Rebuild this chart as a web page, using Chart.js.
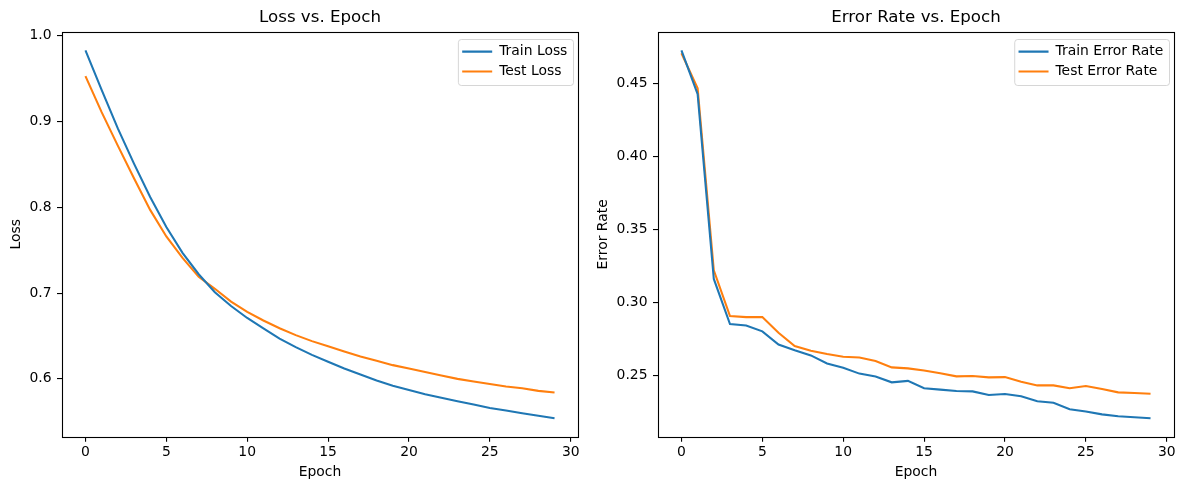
<!DOCTYPE html>
<html><head><meta charset="utf-8">
<script src="https://cdn.jsdelivr.net/npm/chart.js@4/dist/chart.umd.min.js"></script>
<style>
html,body{margin:0;padding:0;background:#fff;}
#wrap{position:relative;width:1188px;height:490px;overflow:hidden;background:#fff;}
canvas{position:absolute;top:0;}
</style></head><body>
<div id="wrap">
<canvas id="c1" width="594" height="490" style="left:0;width:594px;height:490px"></canvas>
<canvas id="c2" width="594" height="490" style="left:594px;width:594px;height:490px"></canvas>
</div>
<script>
// ---- data ----
const epochs = [0,1,2,3,4,5,6,7,8,9,10,11,12,13,14,15,16,17,18,19,20,21,22,23,24,25,26,27,28,29];
const trainLoss = [0.983,0.937,0.892,0.851,0.812,0.777,0.747,0.722,0.701,0.685,0.671,0.659,0.647,0.637,0.628,0.620,0.612,0.605,0.598,0.592,0.587,0.582,0.578,0.574,0.570,0.566,0.563,0.560,0.557,0.554];
const testLoss  = [0.953,0.911,0.872,0.834,0.797,0.766,0.741,0.719,0.705,0.690,0.678,0.668,0.659,0.651,0.644,0.638,0.632,0.626,0.621,0.616,0.612,0.608,0.604,0.600,0.597,0.594,0.591,0.589,0.586,0.584];
const trainErr  = [0.473,0.443,0.316,0.285,0.284,0.280,0.271,0.267,0.2635,0.258,0.255,0.251,0.249,0.245,0.246,0.241,0.240,0.239,0.2388,0.2363,0.237,0.2354,0.232,0.231,0.2265,0.225,0.223,0.2217,0.221,0.2203];
const testErr   = [0.471,0.447,0.322,0.2905,0.2898,0.2898,0.279,0.270,0.2667,0.2644,0.2626,0.2621,0.2596,0.2553,0.2546,0.2532,0.2512,0.2491,0.2493,0.2484,0.2486,0.2454,0.2429,0.2429,0.2409,0.2425,0.2404,0.2381,0.2377,0.2372];
const epochTicks = [0,5,10,15,20,25,30];
const lossTicks = [0.6,0.7,0.8,0.9,1.0];
const errTicks = [0.25,0.30,0.35,0.40,0.45];
const seriesLabels = {loss:['Train Loss','Test Loss'], err:['Train Error Rate','Test Error Rate']};
const titles = {loss:'Loss vs. Epoch', err:'Error Rate vs. Epoch'};
const axisLabels = {x:'Epoch', loss:'Loss', err:'Error Rate'};

// ---- style ----
const FAM = "'DejaVu Sans', sans-serif";
const FS = 13.9;
const BLUE = '#1f77b4', ORANGE = '#ff7f0e';
Chart.defaults.font.family = FAM;
Chart.defaults.font.size = FS;
Chart.defaults.color = '#000';

function pts(vals){ return epochs.map((e,i)=>({x:e, y:vals[i]})); }
function lim(arrs){
  const all = [].concat(...arrs);
  const mn = Math.min(...all), mx = Math.max(...all), m = (mx-mn)*0.05;
  return [mn-m, mx+m];
}

const framePlugin = {
  id: 'frame',
  afterLayout(chart){
    const lg = chart.legend; if(!lg) return;
    const ca = chart.chartArea, ctx = chart.ctx;
    ctx.save(); ctx.font = FS + 'px ' + FAM;
    const tw = Math.max(...chart.data.datasets.map(d=>ctx.measureText(d.label).width));
    ctx.restore();
    const boxRight = ca.right - 5;
    const left = boxRight - 5.6 - tw - 37 - 6;
    const boxTop = ca.top + 7;
    lg.left = left; lg.right = ca.right; lg.top = boxTop - 0.3; lg.bottom = ca.bottom;
    lg.width = lg.right - lg.left; lg.height = lg.bottom - lg.top;
    chart.$lbox = {x:left+1.7, y:boxTop, w:boxRight-(left+1.7), h:46};
  },
  beforeDraw(chart){
    const b = chart.$lbox; if(!b) return;
    const ctx = chart.ctx;
    ctx.save();
    ctx.beginPath();
    if (ctx.roundRect) ctx.roundRect(b.x+0.5, b.y+0.5, b.w, b.h, 3); else ctx.rect(b.x+0.5,b.y+0.5,b.w,b.h);
    ctx.fillStyle = 'rgba(255,255,255,0.8)';
    ctx.fill();
    ctx.strokeStyle = 'rgba(204,204,204,0.8)';
    ctx.lineWidth = 1;
    ctx.stroke();
    ctx.restore();
  },
  afterDatasetsDraw(chart){
    const ca = chart.chartArea, ctx = chart.ctx;
    ctx.save();
    ctx.strokeStyle = '#000';
    ctx.lineWidth = 1.1;
    ctx.strokeRect(Math.round(ca.left)+0.5, Math.round(ca.top)+0.5, Math.round(ca.right)-Math.round(ca.left), Math.round(ca.bottom)-Math.round(ca.top));
    ctx.restore();
  }
};

function makeChart(id, key, series, yTicks, yDigits, yWidth, padRight, yTitlePad){
  const [ymin, ymax] = lim(series);
  return new Chart(document.getElementById(id), {
    type: 'line',
    data: {
      datasets: [
        {label: seriesLabels[key][0], data: pts(series[0]), borderColor: BLUE, backgroundColor: BLUE, borderWidth: 2.08, pointRadius: 0, tension: 0, fill: false},
        {label: seriesLabels[key][1], data: pts(series[1]), borderColor: ORANGE, backgroundColor: ORANGE, borderWidth: 2.08, pointRadius: 0, tension: 0, fill: false}
      ]
    },
    options: {
      responsive: false,
      animation: false,
      events: [],
      layout: {padding: {left: 0, right: padRight, top: 0, bottom: 0}},
      plugins: {
        title: {display: true, text: titles[key], fullSize: false, color: '#000',
                font: {size: 16.67, weight: 'normal', family: FAM}, padding: {top: 8, bottom: 4}},
        legend: {display: true, position: 'chartArea', align: 'start',
                 labels: {usePointStyle: true, pointStyle: 'line', pointStyleWidth: 30, padding: 6, color: '#000',
                          font: {size: FS, family: FAM}}},
        tooltip: {enabled: false}
      },
      scales: {
        x: {
          type: 'linear', min: -1.45, max: 30.45,
          afterBuildTicks: s => { s.ticks = epochTicks.map(v=>({value:v})); },
          afterFit: s => { s.height = 53.3; },
          ticks: {autoSkip: false, padding: 2.5, color: '#000', callback: v => String(v)},
          grid: {drawOnChartArea: false, drawTicks: true, tickLength: 5, color: '#000', lineWidth: 1.1},
          border: {display: false},
          title: {display: true, text: axisLabels.x, color: '#000', font: {size: FS, family: FAM}, padding: {top: 0, bottom: 9.7}}
        },
        y: {
          type: 'linear', min: ymin, max: ymax,
          afterBuildTicks: s => { s.ticks = yTicks.map(v=>({value:v})); },
          afterFit: s => { s.width = yWidth; },
          ticks: {autoSkip: false, padding: 5.5, color: '#000', callback: v => Number(v).toFixed(yDigits)},
          grid: {drawOnChartArea: false, drawTicks: true, tickLength: 5, color: '#000', lineWidth: 1.1},
          border: {display: false},
          title: {display: true, text: axisLabels[key], color: '#000', font: {size: FS, family: FAM}, padding: {top: yTitlePad, bottom: 0}}
        }
      }
    },
    plugins: [framePlugin]
  });
}

makeChart('c1', 'loss', [trainLoss, testLoss], lossTicks, 1, 62, 16, 8.5);
makeChart('c2', 'err', [trainErr, testErr], errTicks, 2, 64, 14, 1);
</script>
</body></html>
